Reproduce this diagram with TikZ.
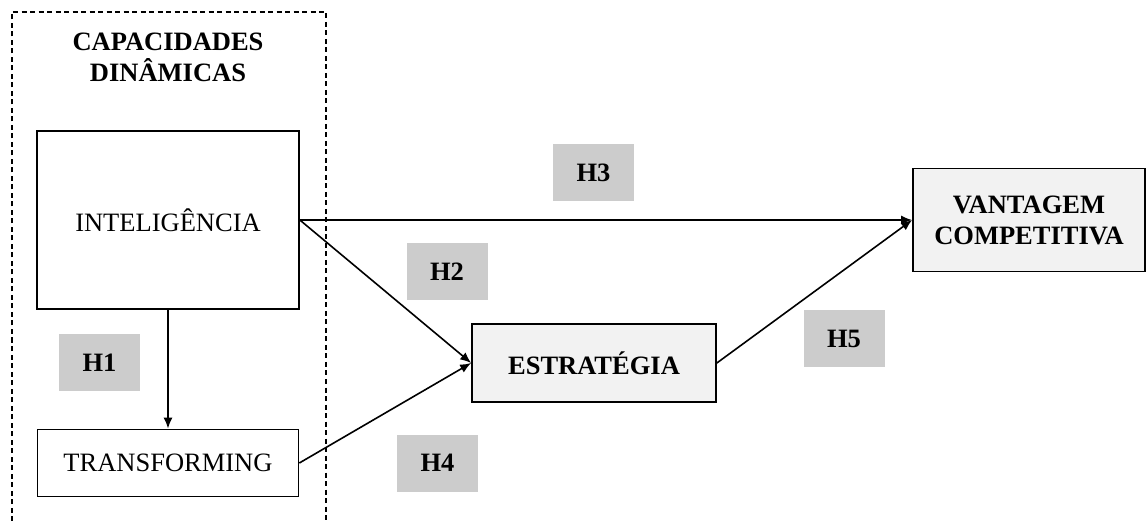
\documentclass[tikz,border=0pt]{standalone}
\usepackage{fontspec}
\setmainfont{Liberation Serif}
\usepackage{tikz}
\usetikzlibrary{arrows.meta, positioning, shapes}

\begin{document}
\begin{tikzpicture}[x=1pt, y=-1pt,
    txt/.style={font=\fontsize{26.5}{31}\selectfont, align=center, inner sep=0pt},
    bigbox/.style={txt, draw, line width=1.7pt, fill=white},
    greybox/.style={bigbox, fill=black!5, font=\fontsize{26.5}{31}\selectfont\bfseries},
    hbox/.style={txt, fill=black!20, minimum width=81pt, minimum height=57pt, font=\fontsize{26.5}{31}\selectfont\bfseries},
    link/.style={line width=1.6pt, -{Latex[length=11pt,width=9pt]}}]
    \useasboundingbox (0,0) rectangle (1146,521);
    % frame around the dynamic capabilities
    \draw[line width=1.3pt, dash pattern=on 5pt off 3.5pt] (12,521) -- (12,12) -- (326,12) -- (326,521);
    \node[txt, font=\fontsize{26.5}{31}\selectfont\bfseries] (title) at (168,57) {CAPACIDADES\\DIN\^AMICAS};

    \node[bigbox, minimum width=262pt, minimum height=178pt] (inteli) at (168,220) {INTELIG\^ENCIA};
    \node[bigbox, minimum width=261pt, minimum height=67pt] (transf) at (168,463) {TRANSFORMING};
    \node[greybox, minimum width=244pt, minimum height=78pt] (estrat) at (594,363) {ESTRAT\'EGIA};
    \node[greybox, minimum width=232pt, minimum height=103pt] (vant) at (1029,220) {VANTAGEM\\COMPETITIVA};

    \node[hbox] (h1) at (99.5,362.5) {H1};
    \node[hbox] (h2) at (447,271.5) {H2};
    \node[hbox] (h3) at (593.5,173) {H3};
    \node[hbox] (h4) at (437.5,463) {H4};
    \node[hbox] (h5) at (844,338.5) {H5};

    \draw[link] (inteli.south) -- (transf.north);
    \draw[link] (inteli.east) -- (vant.west);
    \draw[link] (inteli.east) -- (estrat.west);
    \draw[link] (transf.east) -- (estrat.west);
    \draw[link] (estrat.east) -- (vant.west);
\end{tikzpicture}
\end{document}
